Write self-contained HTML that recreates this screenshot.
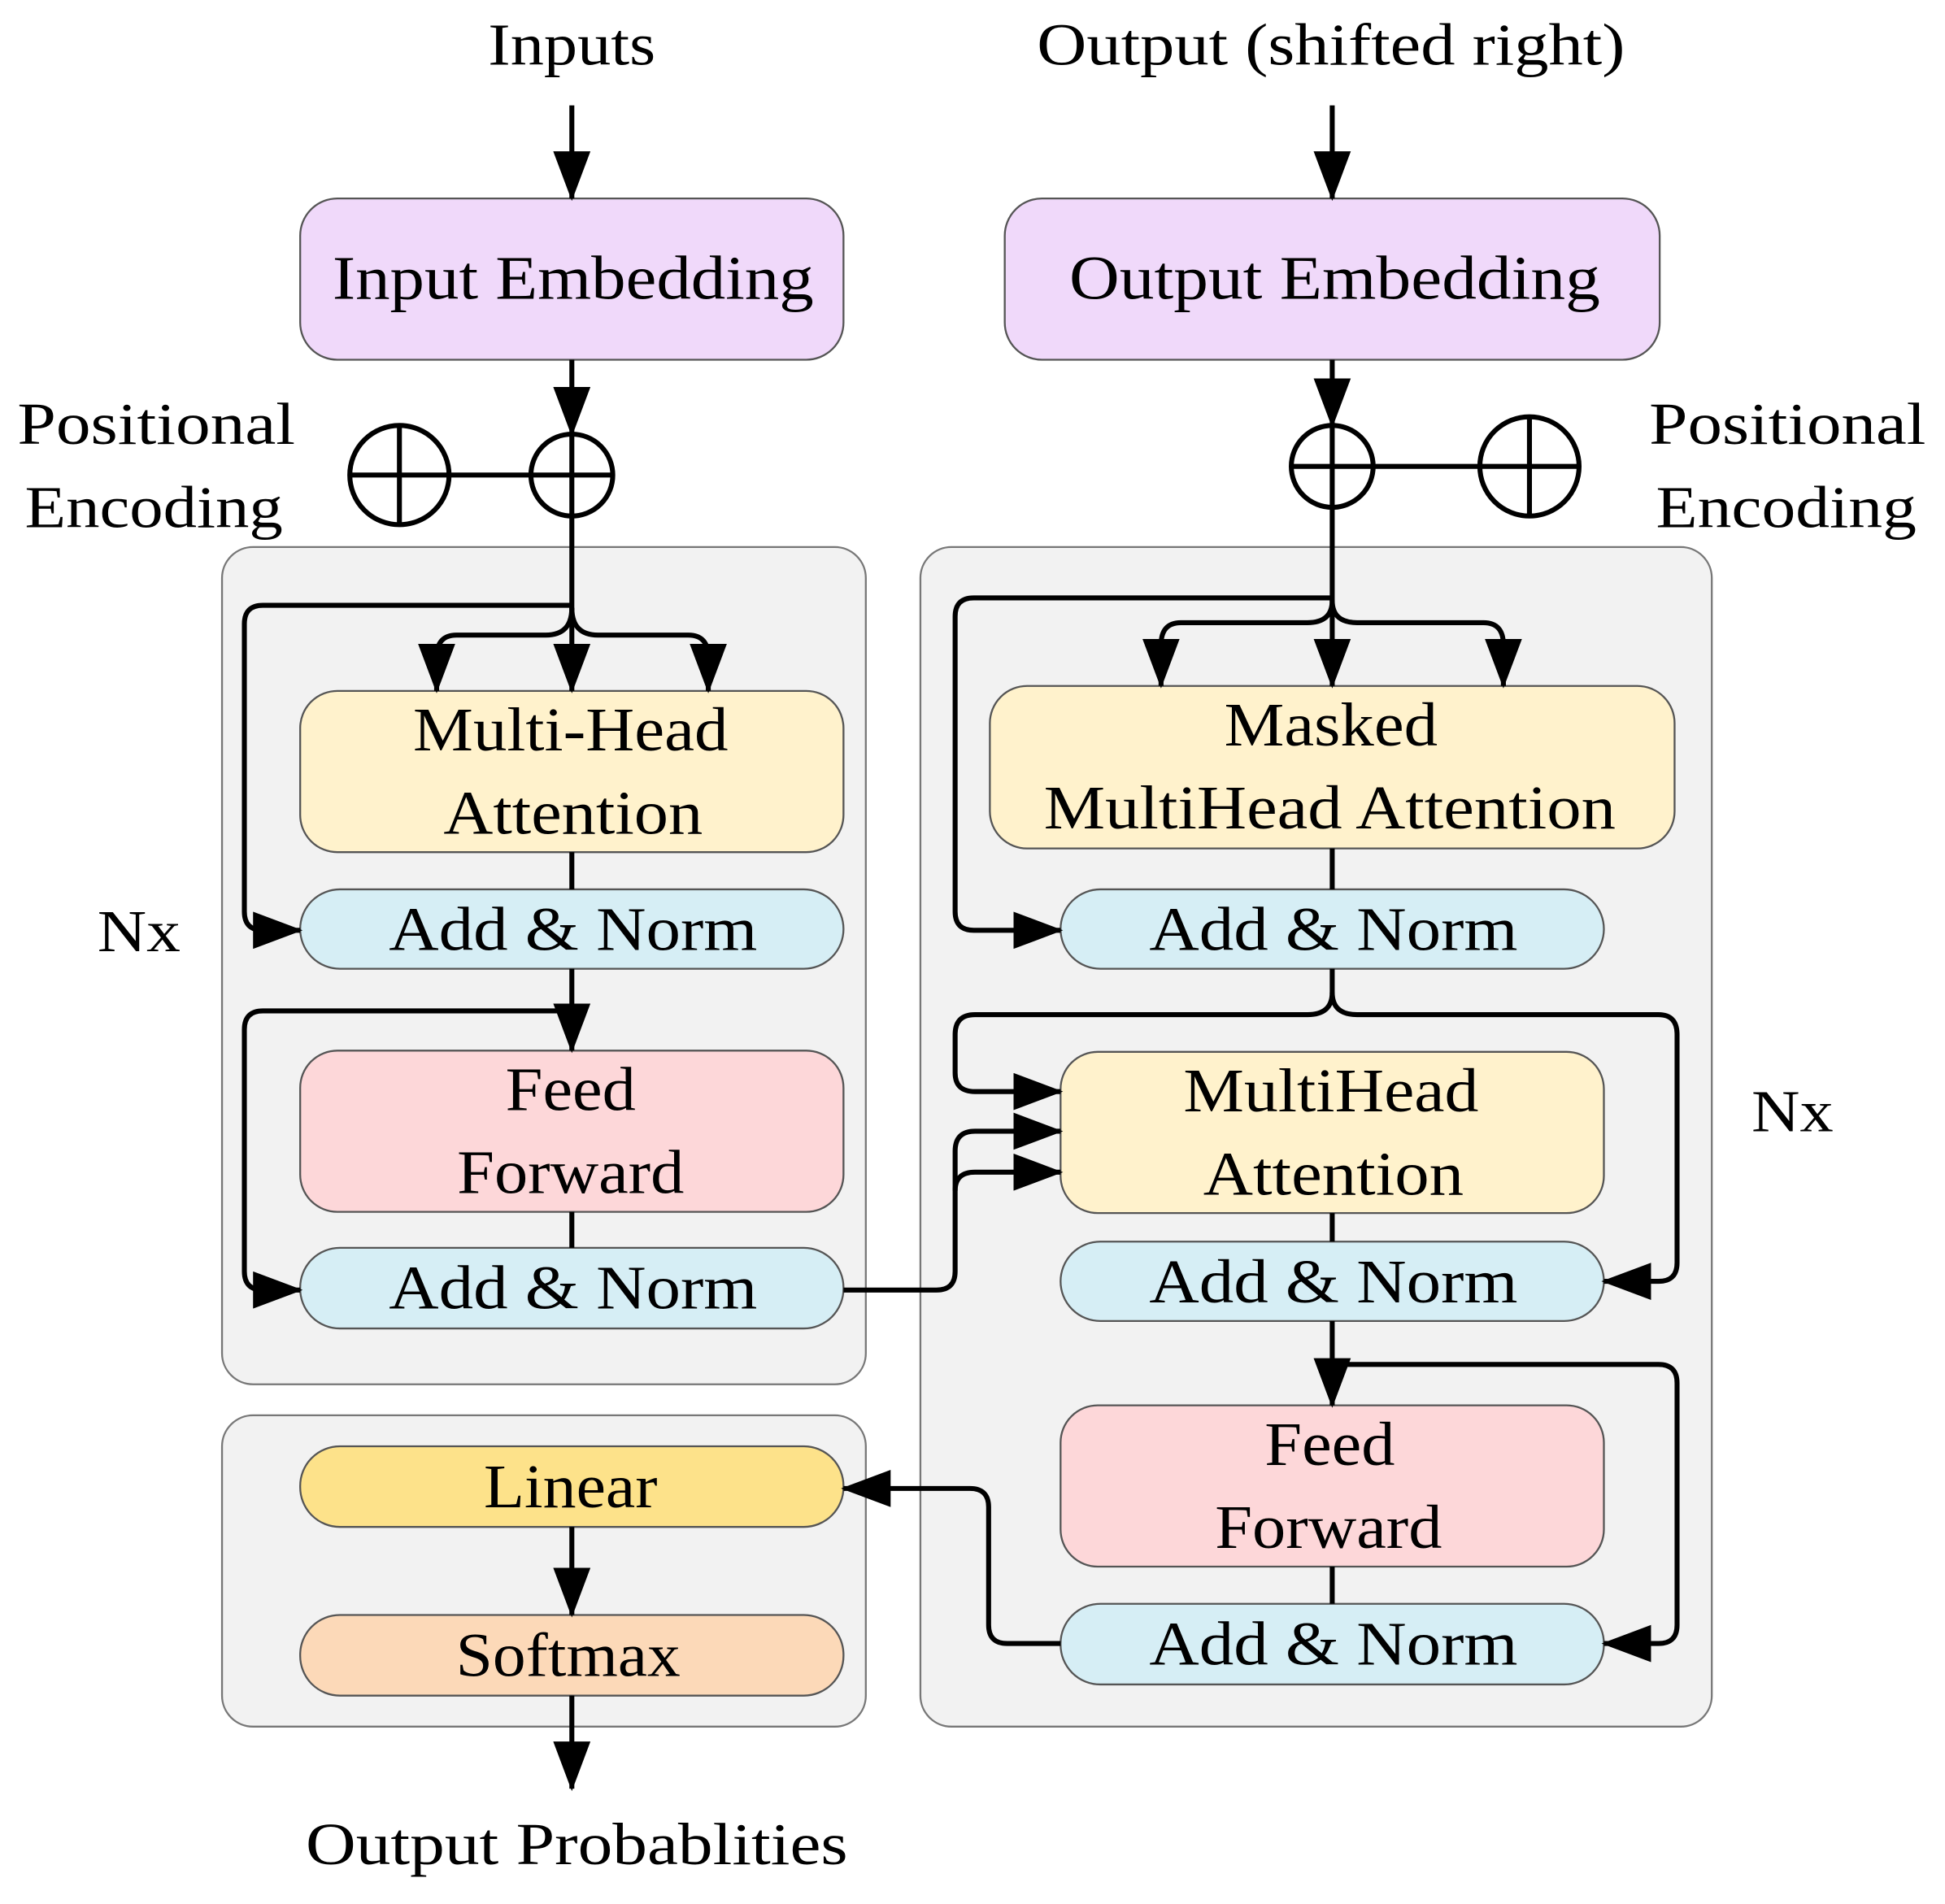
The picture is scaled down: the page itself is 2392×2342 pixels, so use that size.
<!DOCTYPE html>
<html><head><meta charset="utf-8"><style>
html,body{margin:0;padding:0;background:#fff;}
svg{display:block;}
text{font-family:"Liberation Serif",serif;fill:#000;text-anchor:middle;}
</style></head><body>
<svg width="2392" height="2342" viewBox="0 0 1568 1535" preserveAspectRatio="none" xmlns="http://www.w3.org/2000/svg">
<defs>
<marker id="a" viewBox="0 0 40 30" refX="38" refY="15" markerWidth="40" markerHeight="30" markerUnits="userSpaceOnUse" orient="auto">
<path d="M0,0 L40,15 L0,30 z" fill="#000"/></marker>
</defs>
<rect x="179" y="441" width="519" height="675" rx="25" fill="#f2f2f2" stroke="#777" stroke-width="1.5"/>
<rect x="179" y="1141" width="519" height="251" rx="25" fill="#f2f2f2" stroke="#777" stroke-width="1.5"/>
<rect x="742" y="441" width="638" height="951" rx="25" fill="#f2f2f2" stroke="#777" stroke-width="1.5"/>

<g stroke="#555" stroke-width="1.5">
<rect x="242" y="160" width="438" height="130" rx="30" fill="#f0d9fa"/>
<rect x="810" y="160" width="528" height="130" rx="30" fill="#f0d9fa"/>
<rect x="242" y="557" width="438" height="130" rx="30" fill="#fff2cc"/>
<rect x="242" y="717" width="438" height="64" rx="32" fill="#d6eef5"/>
<rect x="242" y="847" width="438" height="130" rx="30" fill="#fdd7d9"/>
<rect x="242" y="1006" width="438" height="65" rx="32" fill="#d6eef5"/>
<rect x="242" y="1166" width="438" height="65" rx="32" fill="#fde28a"/>
<rect x="242" y="1302" width="438" height="65" rx="32" fill="#fcd9b8"/>
<rect x="798" y="553" width="552" height="131" rx="30" fill="#fff2cc"/>
<rect x="855" y="717" width="438" height="64" rx="32" fill="#d6eef5"/>
<rect x="855" y="848" width="438" height="130" rx="30" fill="#fff2cc"/>
<rect x="855" y="1001" width="438" height="64" rx="32" fill="#d6eef5"/>
<rect x="855" y="1133" width="438" height="130" rx="30" fill="#fdd7d9"/>
<rect x="855" y="1293" width="438" height="65" rx="32" fill="#d6eef5"/>
</g>

<g fill="none" stroke="#000" stroke-width="4">
<line x1="461" y1="85" x2="461" y2="160" marker-end="url(#a)"/>
<line x1="461" y1="290" x2="461" y2="350" marker-end="url(#a)"/>
<circle cx="461" cy="383" r="33"/><line x1="428" y1="383" x2="494" y2="383"/><line x1="461" y1="350" x2="461" y2="416"/>
<circle cx="322" cy="383" r="40"/><line x1="282" y1="383" x2="362" y2="383"/><line x1="322" y1="343" x2="322" y2="423"/>
<line x1="362" y1="383" x2="428" y2="383"/>
<line x1="461" y1="416" x2="461" y2="557" marker-end="url(#a)"/>
<path d="M461,488 H212 Q197,488 197,503 V735 Q197,750 212,750 H242" marker-end="url(#a)"/>
<path d="M461,490 Q461,512 440,512 H368 Q352,512 352,530 V557" marker-end="url(#a)"/>
<path d="M461,490 Q461,512 482,512 H555 Q571,512 571,530 V557" marker-end="url(#a)"/>
<line x1="461" y1="687" x2="461" y2="717"/>
<line x1="461" y1="781" x2="461" y2="847" marker-end="url(#a)"/>
<path d="M461,815 H212 Q197,815 197,830 V1025 Q197,1040 212,1040 H242" marker-end="url(#a)"/>
<line x1="461" y1="977" x2="461" y2="1006"/>
<path d="M680,1040 H755 Q770,1040 770,1025 V928 Q770,912 786,912 H855" marker-end="url(#a)"/>
<path d="M770,960 Q770,945 786,945 H855" marker-end="url(#a)"/>
<line x1="461" y1="1231" x2="461" y2="1302" marker-end="url(#a)"/>
<line x1="461" y1="1367" x2="461" y2="1442" marker-end="url(#a)"/>
<line x1="1074" y1="85" x2="1074" y2="160" marker-end="url(#a)"/>
<line x1="1074" y1="290" x2="1074" y2="343" marker-end="url(#a)"/>
<circle cx="1074" cy="376" r="33"/><line x1="1041" y1="376" x2="1107" y2="376"/><line x1="1074" y1="343" x2="1074" y2="409"/>
<circle cx="1233" cy="376" r="40"/><line x1="1193" y1="376" x2="1273" y2="376"/><line x1="1233" y1="336" x2="1233" y2="416"/>
<line x1="1107" y1="376" x2="1193" y2="376"/>
<line x1="1074" y1="409" x2="1074" y2="553" marker-end="url(#a)"/>
<path d="M1074,482 H785 Q770,482 770,497 V735 Q770,750 785,750 H855" marker-end="url(#a)"/>
<path d="M1074,484 Q1074,502 1054,502 H952 Q936,502 936,520 V553" marker-end="url(#a)"/>
<path d="M1074,484 Q1074,502 1094,502 H1196 Q1212,502 1212,520 V553" marker-end="url(#a)"/>
<line x1="1074" y1="684" x2="1074" y2="717"/>
<path d="M1074,781 V800 Q1074,818 1054,818 H786 Q770,818 770,834 V865 Q770,880 786,880 H855" marker-end="url(#a)"/>
<path d="M1074,800 Q1074,818 1094,818 H1337 Q1352,818 1352,834 V1018 Q1352,1033 1337,1033 H1293" marker-end="url(#a)"/>
<line x1="1074" y1="978" x2="1074" y2="1001"/>
<line x1="1074" y1="1065" x2="1074" y2="1133" marker-end="url(#a)"/>
<path d="M1074,1100 H1337 Q1352,1100 1352,1115 V1310 Q1352,1325 1337,1325 H1293" marker-end="url(#a)"/>
<line x1="1074" y1="1263" x2="1074" y2="1293"/>
<path d="M855,1325 H812 Q797,1325 797,1310 V1215 Q797,1200 782,1200 H680" marker-end="url(#a)"/>
</g>

<g font-size="48" lengthAdjust="spacingAndGlyphs">
<text x="461" y="52" textLength="135" lengthAdjust="spacingAndGlyphs">Inputs</text>
<text x="1073" y="52" textLength="474" lengthAdjust="spacingAndGlyphs">Output (shifted right)</text>
<text x="126" y="358" textLength="224" lengthAdjust="spacingAndGlyphs">Positional</text>
<text x="124" y="425" textLength="208" lengthAdjust="spacingAndGlyphs">Encoding</text>
<text x="1441" y="358" textLength="223" lengthAdjust="spacingAndGlyphs">Positional</text>
<text x="1440" y="425" textLength="210" lengthAdjust="spacingAndGlyphs">Encoding</text>
<text x="112" y="767" textLength="67" lengthAdjust="spacingAndGlyphs">Nx</text>
<text x="1445" y="912" textLength="66" lengthAdjust="spacingAndGlyphs">Nx</text>
<text x="465" y="1503" textLength="437" lengthAdjust="spacingAndGlyphs">Output Probablities</text>
</g>
<g font-size="50">
<text x="462" y="241" textLength="388" lengthAdjust="spacingAndGlyphs">Input Embedding</text>
<text x="1076" y="241" textLength="428" lengthAdjust="spacingAndGlyphs">Output Embedding</text>
<text x="460" y="605" textLength="254" lengthAdjust="spacingAndGlyphs">Multi-Head</text>
<text x="462" y="672" textLength="209" lengthAdjust="spacingAndGlyphs">Attention</text>
<text x="462" y="766" textLength="297" lengthAdjust="spacingAndGlyphs">Add &amp; Norm</text>
<text x="460" y="895" textLength="105" lengthAdjust="spacingAndGlyphs">Feed</text>
<text x="460" y="962" textLength="183" lengthAdjust="spacingAndGlyphs">Forward</text>
<text x="462" y="1055" textLength="297" lengthAdjust="spacingAndGlyphs">Add &amp; Norm</text>
<text x="460" y="1215" textLength="140" lengthAdjust="spacingAndGlyphs">Linear</text>
<text x="458" y="1351" textLength="181" lengthAdjust="spacingAndGlyphs">Softmax</text>
<text x="1073" y="601" textLength="172" lengthAdjust="spacingAndGlyphs">Masked</text>
<text x="1072" y="668" textLength="461" lengthAdjust="spacingAndGlyphs">MultiHead Attention</text>
<text x="1075" y="766" textLength="297" lengthAdjust="spacingAndGlyphs">Add &amp; Norm</text>
<text x="1073" y="896" textLength="238" lengthAdjust="spacingAndGlyphs">MultiHead</text>
<text x="1075" y="963" textLength="210" lengthAdjust="spacingAndGlyphs">Attention</text>
<text x="1075" y="1050" textLength="297" lengthAdjust="spacingAndGlyphs">Add &amp; Norm</text>
<text x="1072" y="1181" textLength="105" lengthAdjust="spacingAndGlyphs">Feed</text>
<text x="1071" y="1248" textLength="183" lengthAdjust="spacingAndGlyphs">Forward</text>
<text x="1075" y="1342" textLength="297" lengthAdjust="spacingAndGlyphs">Add &amp; Norm</text>
</g>
</svg>
</body></html>
